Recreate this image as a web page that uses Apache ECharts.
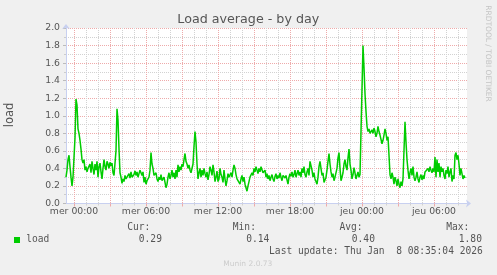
<!DOCTYPE html>
<html>
<head>
<meta charset="utf-8">
<script src="https://cdn.jsdelivr.net/npm/echarts@6/dist/echarts.min.js"></script>
<style>
html,body{margin:0;padding:0;background:#f0f0f0;}
#c{width:497px;height:275px;}
</style>
</head>
<body>
<div id="c"></div>
<script>
// ---- data ----
const stepMinutes = 5;
const startOffsetSteps = -8; // first sample is 40 min before "mer 00:00"
const tickLabels = ["mer 00:00","mer 06:00","mer 12:00","mer 18:00","jeu 00:00","jeu 06:00"];
const yTicks = ["0.0","0.2","0.4","0.6","0.8","1.0","1.2","1.4","1.6","1.8","2.0"];
const loadValues = [
0.30,0.38,0.50,0.55,0.42,0.30,0.20,0.30,0.28,0.75,
1.19,1.12,0.85,0.80,0.72,0.62,0.50,0.46,0.50,0.38,
0.42,0.36,0.40,0.38,0.45,0.35,0.48,0.40,0.33,0.45,
0.38,0.48,0.30,0.42,0.46,0.36,0.28,0.40,0.50,0.42,
0.38,0.48,0.45,0.40,0.47,0.43,0.46,0.35,0.32,0.31,
0.60,1.08,0.95,0.62,0.35,0.30,0.23,0.28,0.25,0.32,
0.28,0.30,0.26,0.34,0.29,0.36,0.30,0.28,0.33,0.37,
0.32,0.36,0.30,0.34,0.38,0.35,0.32,0.36,0.24,0.30,
0.22,0.26,0.28,0.30,0.38,0.58,0.45,0.40,0.32,0.30,
0.35,0.28,0.25,0.30,0.27,0.33,0.26,0.24,0.30,0.28,
0.18,0.22,0.30,0.35,0.28,0.32,0.38,0.30,0.35,0.28,
0.38,0.30,0.44,0.36,0.42,0.38,0.45,0.42,0.50,0.57,
0.48,0.45,0.40,0.44,0.38,0.35,0.37,0.45,0.65,0.82,
0.70,0.45,0.28,0.35,0.40,0.30,0.38,0.32,0.40,0.34,
0.30,0.36,0.27,0.33,0.42,0.38,0.32,0.44,0.36,0.25,
0.30,0.37,0.25,0.28,0.40,0.33,0.30,0.24,0.38,0.28,
0.20,0.26,0.34,0.30,0.28,0.35,0.30,0.38,0.44,0.40,
0.33,0.28,0.30,0.26,0.22,0.28,0.32,0.25,0.30,0.22,
0.18,0.14,0.20,0.25,0.30,0.28,0.35,0.32,0.40,0.36,
0.42,0.38,0.34,0.40,0.36,0.42,0.44,0.35,0.33,0.38,
0.30,0.34,0.28,0.32,0.26,0.30,0.33,0.28,0.25,0.31,
0.34,0.28,0.32,0.29,0.35,0.30,0.26,0.32,0.34,0.29,
0.32,0.27,0.22,0.30,0.34,0.31,0.36,0.30,0.33,0.38,
0.30,0.34,0.38,0.32,0.36,0.30,0.40,0.35,0.42,0.33,
0.30,0.36,0.40,0.32,0.48,0.50,0.38,0.30,0.35,0.28,
0.25,0.22,0.30,0.42,0.48,0.40,0.32,0.35,0.24,0.22,
0.30,0.38,0.48,0.57,0.45,0.36,0.30,0.34,0.26,0.30,
0.28,0.40,0.52,0.58,0.40,0.26,0.30,0.35,0.45,0.50,
0.42,0.38,0.52,0.62,0.45,0.38,0.28,0.33,0.41,0.35,
0.28,0.32,0.36,0.30,0.33,0.31,0.35,1.80,1.55,1.25,
1.05,0.88,0.82,0.85,0.80,0.78,0.84,0.80,0.86,0.82,
0.76,0.80,0.88,0.82,0.78,0.73,0.68,0.72,0.78,0.85,
0.80,0.72,0.76,0.55,0.33,0.28,0.35,0.30,0.22,0.30,
0.26,0.20,0.28,0.22,0.18,0.25,0.20,0.28,0.30,0.93,
0.70,0.50,0.38,0.28,0.35,0.40,0.32,0.42,0.30,0.26,
0.30,0.36,0.28,0.24,0.30,0.33,0.27,0.32,0.28,0.36,
0.38,0.34,0.40,0.36,0.42,0.38,0.35,0.40,0.36,0.53,
0.30,0.50,0.36,0.46,0.30,0.42,0.36,0.40,0.32,0.28,
0.38,0.34,0.42,0.30,0.36,0.40,0.25,0.32,0.28,0.55,
0.58,0.50,0.55,0.45,0.32,0.40,0.34,0.28,0.32,0.29
];
const legendName = "load";
const statHeaders = ["Cur:","Min:","Avg:","Max:"];
const statValues = ["0.29","0.14","0.40","1.80"];
const lastUpdate = "Last update: Thu Jan  8 08:35:04 2026";
const titleText = "Load average - by day";
const yName = "load";
const sideText = "RRDTOOL / TOBI OETIKER";
const footer = "Munin 2.0.73";

// ---- categories (5-min slots; two spare slots at the right edge) ----
const nSlots = loadValues.length + 2;
const days = ["mar","mer","jeu"];
const categories = [];
for (let i = 0; i < nSlots; i++) {
  const m = (i + startOffsetSteps) * stepMinutes;
  const d = Math.floor(m / 1440) + 1;
  const mm = ((m % 1440) + 1440) % 1440;
  const hh = String(Math.floor(mm / 60)).padStart(2, "0");
  const mi = String(mm % 60).padStart(2, "0");
  categories.push(days[d] + " " + hh + ":" + mi);
}
const off = -startOffsetSteps;
const isHour = i => (i - off) % 12 === 0;
const isMajor = i => (i - off) % 36 === 0;
const isLabel = i => (i - off) % 72 === 0 && tickLabels.indexOf(categories[i]) >= 0;

const RED = '#eeaaaa', GREY = '#d2d2d2', AXIS = '#c8d0f0', TXT = '#555555';
const mono = 'DejaVu Sans Mono';
const sans = 'DejaVu Sans';

const chart = echarts.init(document.getElementById('c'), null, {renderer: 'canvas'});

function t(text, x, y, opts) {
  return Object.assign({
    type: 'text', x: x, y: y, silent: true,
    style: Object.assign({text: text, fill: TXT, font: '9.6px ' + mono, textAlign: 'left', textVerticalAlign: 'middle'}, opts || {})
  });
}
const statX = [[127.2, 138.8], [232.8, 246.2], [339.5, 351.8], [446.2, 458.8]];
const graphics = [
  t(titleText, 248.3, 19.8, {font: '12.7px ' + sans, textAlign: 'center'}),
  Object.assign(t(yName, 9.8, 115, {font: '11.5px ' + sans, textAlign: 'center'}), {rotation: Math.PI / 2}),
  Object.assign(t(sideText, 488, 53.5, {font: '7.5px ' + sans, textAlign: 'center', fill: '#c4c4c4'}), {rotation: -Math.PI / 2}),
  {type: 'rect', shape: {x: 14, y: 237, width: 6, height: 6}, style: {fill: '#00cc00'}, silent: true},
  t(legendName, 26.2, 239.6),
  t(lastUpdate, 482.8, 251.7, {textAlign: 'right'}),
  t(footer, 247.8, 264, {font: '7.5px ' + sans, textAlign: 'center', fill: '#cccccc'})
];
statHeaders.forEach((h, k) => {
  graphics.push(t(h, statX[k][0], 227.6));
  graphics.push(t(statValues[k], statX[k][1], 239.6));
});

chart.setOption({
  animation: false,
  backgroundColor: '#f0f0f0',
  grid: {left: 66, top: 28, width: 401, height: 175.5, show: true, backgroundColor: '#ffffff', borderWidth: 0, containLabel: false},
  xAxis: [
    {
      type: 'category', data: categories, boundaryGap: false, position: 'bottom',
      axisLine: {show: false}, axisLabel: {show: false},
      axisTick: {show: true, length: 2, interval: i => isHour(i) && !isMajor(i), lineStyle: {color: GREY}},
      splitLine: {show: true, interval: i => isHour(i) && !isMajor(i), lineStyle: {color: GREY, width: 1, type: [1, 1]}}
    },
    {
      type: 'category', data: categories, boundaryGap: false, position: 'bottom',
      axisLine: {show: true, lineStyle: {color: AXIS, width: 1}, symbol: ['none', 'arrow'], symbolSize: [6, 5], symbolOffset: [0, 4]},
      axisTick: {show: true, length: 3, interval: i => isMajor(i), lineStyle: {color: RED}},
      axisLabel: {show: true, interval: i => isLabel(i), margin: 4, color: TXT, fontFamily: sans, fontSize: 9.3},
      splitLine: {show: true, interval: i => isMajor(i), lineStyle: {color: RED, width: 1, type: [1, 1]}}
    }
  ],
  yAxis: {
    type: 'value', min: 0, max: 2, interval: 0.2,
    axisLine: {show: true, lineStyle: {color: AXIS, width: 1}, symbol: ['none', 'arrow'], symbolSize: [6, 5], symbolOffset: [0, 4]},
    axisTick: {show: true, length: 3, lineStyle: {color: '#bbbbbb'}},
    minorTick: {show: true, splitNumber: 2, length: 2, lineStyle: {color: '#cccccc'}},
    axisLabel: {color: TXT, fontFamily: sans, fontSize: 9.3, margin: 6, formatter: v => yTicks[Math.round(v / 0.2)]},
    splitLine: {show: true, lineStyle: {color: RED, width: 1, type: [1, 1]}},
    minorSplitLine: {show: true, lineStyle: {color: GREY, width: 1, type: [1, 1]}}
  },
  series: [{
    type: 'line', xAxisIndex: 1, data: loadValues, showSymbol: false, symbol: 'none',
    lineStyle: {color: '#00cc00', width: 1.5}, itemStyle: {color: '#00cc00'}, z: 5
  }],
  graphic: graphics
});
</script>
</body>
</html>
